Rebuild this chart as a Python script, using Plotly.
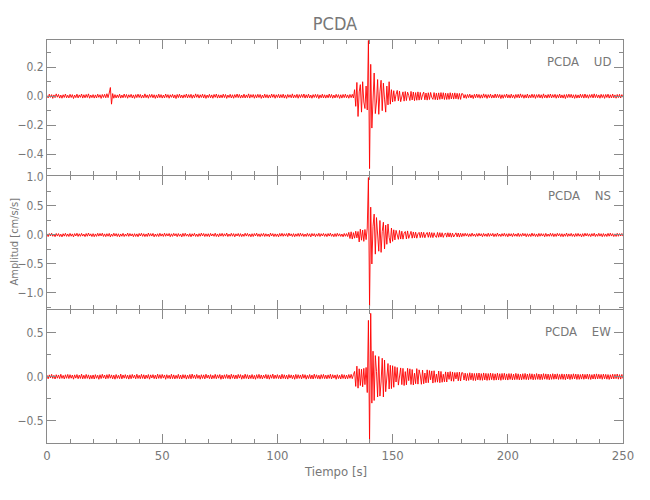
import numpy as np
import plotly.graph_objects as go
from plotly.subplots import make_subplots

# ---------------- data ----------------
STATION = "PCDA"
COMPONENTS = ["UD", "NS", "EW"]
DT = 0.5
MILLI = 1000.0    # values below are in 0.001 cm/s/s

UD_MILLI = [
    5, -12, 14, -8, 11, -15, 9, -10, 16, -7, 12, -13, 8, -14, 10, -9, 15, -11, 7, -12,
    13, -9, 11, -16, 8, -10, 14, -12, 9, -8, 15, -13, 10, -11, 12, -9, 16, -14, 8, -10,
    11, -13, 9, -12, 14, -8, 10, -15, 12, -9, 13, -11, 17, -10, 22, 60, -55, 18, -14, 11,
    -12, 9, -10, 14, -13, 8, -11, 15, -9, 12, -14, 10, -8, 13, -12, 9, -15, 11, -10, 14,
    -9, 12, -13, 8, -11, 16, -10, 9, -14, 12, -8, 13, -11, 10, -15, 9, -12, 14, -10, 11,
    -13, 8, -12, 15, -9, 11, -14, 10, -8, 13, -12, 9, -16, 12, -10, 14, -11, 8, -13, 10,
    -9, 15, -12, 11, -10, 13, -14, 9, -11, 16, -8, 12, -13, 10, -9, 14, -12, 11, -15, 8,
    -10, 13, -11, 9, -14, 12, -8, 15, -13, 10, -12, 9, -11, 14, -10, 12, -15, 8, -9, 13,
    -12, 10, -14, 11, -9, 15, -10, 12, -13, 8, -11, 14, -12, 9, -10, 16, -13, 11, -8, 12,
    -14, 10, -11, 13, -9, 12, -15, 8, -12, 14, -10, 11, -13, 9, -11, 15, -8, 12, -14, 10,
    -9, 13, -12, 11, -10, 14, -13, 9, -15, 12, -8, 10, -11, 16, -12, 9, -10, 13, -14, 11,
    -10, 12, -9, 15, -13, 10, -11, 14, -12, 8, -14, 11, -9, 13, -10, 12, -16, 9, -11, 14,
    -12, 10, -13, 9, -11, 15, -10, 12, -14, 8, -12, 13, -9, 11, -15, 10, -13, 12, -10, 14,
    -11, 9, -14, 12, -10, 13, -12,
    45, -70, 95, -140, 30, 80, -110, 100, -40, -85, 70, -95,
    385, -500,
    220, -220, 60, 160, -120, -40, 115, -125, 30, 110, -100, 90, -20, -110, 70, -60, 100, -55, 45, -40,
    38, -35, 12, 40, -32, 35, -38, -10, 30, -34, 32, -30, 28, 5, -30, 33, -26, 29, -31, 25,
    -28, 30, -27, 26, -24, 10, 28, -25, 22, -27, 24, -23, 26, -8, -22, 25, -24, 21, -26, 23,
    -22, 25, -20, 24, -23, 21, -23, 20, -22, 24, -19, 21, -20, 23, -18, 20, -21, 19, -22, 18,
    16, -13, 11, -15, 12, -10, 14, -12, 9, -16, 13, -11, 15, -10, 12, -14, 10, -13, 16, -9,
    12, -15, 11, -10, 14, -13, 9, -12, 15, -11, 13, -10, 12, -16, 10, -14, 11, -9, 15, -12,
    10, -13, 14, -11, 9, -15, 12, -10, 13, -12, 16, -9, 11, -14, 10, -12, 15, -13, 9, -11,
    14, -10, 12, -15, 11, -9, 13, -12, 10, -14, 16, -11, 9, -13, 12, -10, 15, -12, 11, -9,
    13, -14, 10, -11, 15, -12, 9, -13, 11, -16, 12, -10, 14, -9, 13, -12, 10, -15, 11, -13,
    9, -12, 14, -10, 12, -13, 15, -11, 10, -14, 11, -9, 13, -12, 16, -10, 12, -11, 9, -14,
    13, -10, 11, -15, 12, -9, 14, -13, 10, -12, 15, -11, 9, -14, 12, -10, 13, -12, 11, -8,
]

NS_MILLI = [
    20, -28, 25, -18, 31, -22, 17, -30, 26, -19, 24, -27, 15, -33, 22, -20, 29, -24, 18, -26,
    27, -21, 19, -32, 24, -17, 30, -25, 21, -23, 28, -19, 16, -29, 25, -22, 33, -18, 20, -27,
    23, -30, 18, -24, 29, -20, 26, -16, 31, -25, 19, -28, 22, -21, 27, -33, 17, -23, 30, -19,
    24, -26, 21, -31, 18, -22, 28, -27, 16, -20, 32, -24, 25, -18, 20, -29, 23, -25, 19, -30,
    26, -17, 30, -23, 22, -28, 18, -26, 33, -21, 24, -19, 27, -32, 17, -24, 21, -27, 29, -20,
    19, -25, 31, -22, 23, -18, 26, -30, 20, -24, 28, -16, 22, -29, 25, -21, 18, -33, 27, -23,
    30, -20, 17, -26, 24, -31, 21, -19, 29, -25, 16, -28, 23, -22, 32, -18, 26, -27, 20, -24,
    22, -29, 27, -17, 19, -23, 31, -26, 18, -30, 25, -20, 28, -24, 21, -19, 33, -27, 17, -22,
    29, -21, 24, -32, 20, -18, 26, -25, 23, -28, 16, -24, 30, -19, 27, -23, 18, -31, 22, -26,
    25, -17, 31, -24, 19, -29, 23, -20, 28, -26, 21, -22, 17, -30, 32, -18, 24, -27, 20, -25,
    18, -31, 26, -21, 29, -23, 22, -19, 25, -28, 33, -16, 20, -26, 24, -30, 19, -22, 27, -24,
    31, -20, 23, -27, 17, -25, 28, -22, 21, -33, 26, -18, 24, -29, 19, -21, 30, -26, 22, -17,
    27, -24, 20, -28, 25, -19, 32, -23, 18, -30, 23, -26, 29, -20, 21, -25, 17, -31, 26, -22,
    24, -27,
    45, -60, 55, -70, 40, -55, 65, -50, 60,
    -120, 100, -90, 85, -110, 95, -80, 120,
    990, -1230,
    480, -500, 150, 360, -330, 300, -80, -280, 250, -300, 60, 220, -240, 170, -160, 190, -40, -140, 120, -110,
    90, -85, 80, -20, -75, 78, -70, 65, -72, 30, 60, -68, 70, -58, 25, 62, -55, 52, -50, 48,
    -55, 20, 45, -47, 50, -42, 46, -48, 15, 44, -40, 47, -43, 41, -45, 38, -20, -42, 44, -39,
    40, -36, 38, -41, 15, 35, -37, 39, -34, 36, -38, 33, -35, 12, 37, -32, 34, -36, 31, -30,
    26, -22, 30, -19, 24, -28, 21, -25, 32, -20, 18, -27, 25, -23, 29, -17, 22, -30, 27, -21,
    19, -26, 31, -24, 23, -18, 28, -29, 20, -25, 33, -22, 17, -27, 24, -20, 30, -23, 21, -31,
    25, -19, 22, -28, 27, -21, 18, -24, 31, -26, 20, -23, 29, -17, 24, -30, 22, -25, 19, -27,
    32, -20, 23, -26, 18, -29, 27, -22, 25, -19, 21, -31, 28, -24, 17, -23, 30, -21, 26, -28,
    20, -25, 29, -18, 24, -27, 22, -30, 19, -22, 33, -26, 21, -20, 28, -24, 18, -29, 25, -23,
    27, -21, 19, -32, 23, -25, 30, -18, 26, -22, 20, -28, 24, -19, 31, -27, 17, -23, 29, -20,
    22, -30, 25, -24, 18, -26, 28, -21, 32, -19, 23, -27, 20, -25, 29, -22, 24, -18, 26, -21,
]

EW_MILLI = [
    18, -24, 21, -15, 27, -20, 16, -26, 23, -17, 20, -22, 28, -19, 15, -25, 22, -18, 26, -21,
    23, -17, 19, -28, 21, -16, 25, -23, 18, -20, 29, -24, 17, -22, 26, -19, 21, -27, 16, -23,
    20, -26, 24, -18, 17, -29, 22, -21, 28, -16, 19, -25, 23, -20, 27, -17, 21, -24, 18, -28,
    25, -19, 16, -22, 30, -25, 20, -17, 24, -21, 18, -27, 22, -23, 26, -16, 19, -24, 28, -20,
    17, -23, 27, -20, 22, -26, 19, -18, 25, -28, 21, -15, 24, -22, 18, -25, 29, -19, 23, -21,
    26, -16, 20, -29, 23, -19, 17, -24, 28, -22, 21, -25, 16, -20, 27, -23, 19, -26, 24, -17,
    22, -27, 18, -21, 25, -24, 30, -18, 20, -23, 26, -19, 17, -28, 23, -20, 21, -25, 28, -16,
    19, -22, 24, -26, 16, -20, 27, -23, 21, -17, 25, -29, 18, -24, 22, -19, 26, -21, 20, -27,
    28, -18, 21, -25, 19, -23, 26, -16, 24, -28, 17, -22, 29, -20, 23, -26, 18, -21, 25, -24,
    16, -29, 23, -19, 27, -22, 20, -25, 18, -17, 26, -24, 22, -28, 21, -18, 30, -23, 19, -20,
    24, -21, 17, -26, 28, -20, 22, -24, 19, -27, 25, -16, 21, -23, 18, -29, 26, -22, 23, -19,
    20, -25, 27, -17, 23, -28, 16, -21, 25, -24, 19, -26, 29, -18, 22, -23, 17, -27, 24, -20,
    26, -22, 18, -24, 21, -19, 28, -25, 23, -16, 20, -29, 24, -21, 17, -26, 27, -20, 22, -25,
    19, -23, 25, -18, 27, -22, 24,
    60, -110, 120, -130, 90, -100, 85, -115, 95, -90, 105, -180,
    640, -740, 720,
    -300, 290, -270, 240, 60, -230, 230, -220, -60, 210, -230, 190, -170, 40, 150, -140, 130, -135, 125,
    -120, 115, -60, 105, -95, 30, 100, -90, 95, -100, 58, -92, 96, -45, 90, -88, 82, -94, 40, -80,
    92, -84, 78, 20, -86, 75, -80, 42, -70, 78, -68, 70, -35, 66, -72, 68, -64, 30, -62, 65,
    -68, 60, -63, 28, -58, 55, -60, 52, -30, 58, -50, 54, -52, 48, -25, 50, -47, 52, -49, 46,
    44, -38, 41, -46, 36, -42, 45, -35, 40, -43, 37, -44, 39, -36, 42, -40, 35, -41, 43, -37,
    38, -42, 36, -39, 41, -34, 37, -40, 33, -38, 40, -36, 34, -41, 37, -33, 39, -35, 32, -38,
    36, -31, 35, -37, 30, -34, 38, -32, 33, -36, 29, -35, 34, -30, 37, -33, 31, -34, 35, -29,
    33, -35, 28, -32, 36, -30, 31, -34, 29, -33, 35, -28, 32, -31, 30, -35, 27, -30, 34, -29,
    30, -27, 33, -31, 26, -29, 32, -30, 28, -34, 31, -26, 29, -32, 27, -28, 33, -25, 30, -31,
    28, -30, 25, -27, 31, -29, 26, -24, 30, -28, 27, -31, 24, -26, 29, -27, 32, -25, 28, -23,
    26, -29, 30, -24, 27, -28, 25, -31, 23, -26, 29, -25, 27, -22, 31, -28, 24, -27, 26, -21,
]

TRACES = [UD_MILLI, NS_MILLI, EW_MILLI]
X_LABEL = "Tiempo [s]"
Y_LABEL = "Amplitud [cm/s/s]"

# ---------------- figure ----------------
AX = "#8a8a8a"
TXT = "#777777"
FONT = "Liberation Sans Narrow, DejaVu Sans Condensed, Liberation Sans, sans-serif"

# the page body adds an 8px margin, so the figure is sized to fit inside the window
W, H = 634, 484
ML, MR, MT, MB = 39, 19, 32, 49
PLOT_W = W - ML - MR
PLOT_H = H - MT - MB   # 403 px

fig = make_subplots(rows=3, cols=1, shared_xaxes=True, vertical_spacing=0)

for i, vals in enumerate(TRACES):
    y = np.asarray(vals, dtype=float) / MILLI
    t = np.arange(len(y)) * DT
    fig.add_trace(go.Scatter(x=t, y=y, mode="lines",
                             line=dict(color="#ff0000", width=0.9),
                             showlegend=False, hoverinfo="skip"),
                  row=i + 1, col=1)

# panel domains in pixels from the bottom of the plotting area; neighbouring
# panels are 1px apart so their shared border lines fall on the same pixel row
panel_px = [(268, PLOT_H), (134, 267), (0, 133)]
y_ranges = [[-0.544, 0.388], [-1.276, 1.017], [-0.753, 0.758]]
y_dticks = [0.2, 0.5, 0.5]
y_minor = [0.1, 0.25, 0.25]

for i in range(3):
    fig.update_xaxes(range=[0, 250], dtick=50, tick0=0,
                     showline=True, linecolor=AX, linewidth=1, mirror="allticks",
                     ticks="inside", ticklen=9, tickcolor=AX, tickwidth=1,
                     minor=dict(ticks="inside", ticklen=4, dtick=10, tickcolor=AX, tickwidth=1),
                     showgrid=False, zeroline=False,
                     showticklabels=(i == 2), automargin=False,
                     tickfont=dict(family=FONT, size=13, color=TXT),
                     row=i + 1, col=1)
    fig.update_yaxes(range=y_ranges[i], dtick=y_dticks[i], tick0=0, tickformat=".1f",
                     domain=[panel_px[i][0] / PLOT_H, panel_px[i][1] / PLOT_H],
                     showline=True, linecolor=AX, linewidth=1, mirror="allticks",
                     ticks="inside", ticklen=9, tickcolor=AX, tickwidth=1,
                     minor=dict(ticks="inside", ticklen=4, dtick=y_minor[i], tickcolor=AX, tickwidth=1),
                     showgrid=False, zeroline=False, automargin=False,
                     tickfont=dict(family=FONT, size=12, color=TXT),
                     row=i + 1, col=1)

label_y = [0.84, 0.857, 0.835]
for i, comp in enumerate(COMPONENTS):
    xref = "x domain" if i == 0 else f"x{i + 1} domain"
    yref = "y domain" if i == 0 else f"y{i + 1} domain"
    fig.add_annotation(text=STATION + "\u00a0\u00a0\u00a0\u00a0" + comp,
                       xref=xref, yref=yref, x=0.982, y=label_y[i],
                       xanchor="right", yanchor="middle", showarrow=False,
                       font=dict(family=FONT, size=13, color=TXT))

fig.add_annotation(text=X_LABEL, xref="paper", yref="paper", x=0.5, y=-29 / PLOT_H,
                   xanchor="center", yanchor="middle", showarrow=False,
                   font=dict(family=FONT, size=13, color=TXT))
fig.add_annotation(text=Y_LABEL, xref="paper", yref="paper", x=-33 / PLOT_W, y=0.5,
                   xanchor="center", yanchor="middle", textangle=-90, showarrow=False,
                   font=dict(family=FONT, size=11, color=TXT))

fig.update_layout(
    width=W, height=H,
    margin=dict(l=ML, r=MR, t=MT, b=MB, autoexpand=False),
    paper_bgcolor="white", plot_bgcolor="white",
    title=dict(text=STATION, x=0.5, xref="paper", y=1 - 15.3 / H, yanchor="middle",
               font=dict(family=FONT, size=18, color=TXT)),
)

fig.write_html("out.html")
